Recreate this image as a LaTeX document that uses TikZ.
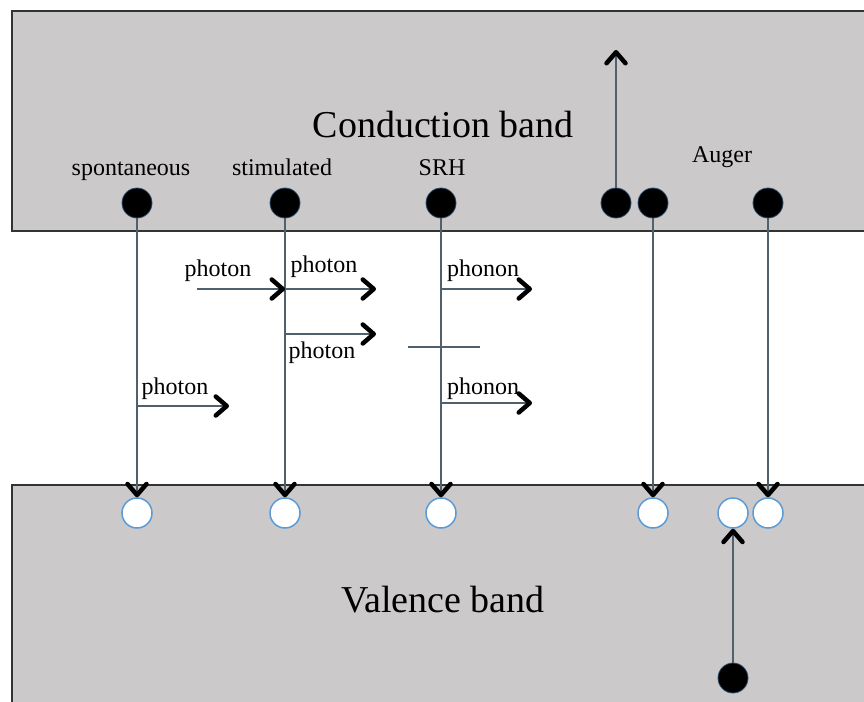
\documentclass[tikz,border=0pt]{standalone}
\usepackage{fontspec}
\setmainfont{Liberation Serif}
\usetikzlibrary{arrows.meta}
\definecolor{band}{HTML}{CBC9CA}
\definecolor{edge}{HTML}{333333}
\definecolor{wire}{HTML}{50606C}
\definecolor{rim}{HTML}{5B9BD5}
\tikzset{
  electron/.style={circle, fill=black, draw=rim!50!black, line width=0.8pt, minimum size=30pt, inner sep=0pt},
  hole/.style={circle, fill=white, draw=rim, line width=1.5pt, minimum size=30pt, inner sep=0pt},
  trans/.style={draw=wire, line width=1.2pt, -{Straight Barb[length=11pt,width=19pt,line width=4.5pt,round,color=black]}},
  lbl/.style={font=\fontsize{24}{28}\selectfont, inner sep=0pt, anchor=base},
  bandlbl/.style={font=\fontsize{38}{44}\selectfont, inner sep=0pt, anchor=base},
  bandedge/.style={draw=edge, line width=2pt},
  trap/.style={draw=wire, line width=1.2pt}
}
\begin{document}
\begin{tikzpicture}[x=1pt,y=-1pt]
\useasboundingbox (0,0) rectangle (864,701);
\clip (0,0) rectangle (864,701);
% bands
\fill[band] (12,11) rectangle (880,231);
\draw[bandedge] (880,11) -- (12,11) -- (12,231) -- (880,231);
\fill[band] (12,485) rectangle (880,720);
\draw[bandedge] (880,485) -- (12,485) -- (12,720);
% band labels
\node[bandlbl] (cbl) at (443,137) {Conduction band};
\node[bandlbl] (vbl) at (443,612) {Valence band};
% process labels
\node[lbl] (tsp) at (131,175) {spontaneous};
\node[lbl] (tst) at (282,175) {stimulated};
\node[lbl] (tsrh) at (442,175) {SRH};
\node[lbl] (tau) at (722,162) {Auger};
% electrons
\node[electron] (e1) at (137,203) {};
\node[electron] (e2) at (285,203) {};
\node[electron] (e3) at (441,203) {};
\node[electron] (e4) at (616,203) {};
\node[electron] (e5) at (653,203) {};
\node[electron] (e6) at (768,203) {};
\node[electron] (e7) at (733,678) {};
% holes
\node[hole] (h1) at (137,513) {};
\node[hole] (h2) at (285,513) {};
\node[hole] (h3) at (441,513) {};
\node[hole] (h5) at (653,513) {};
\node[hole] (h7) at (733,513) {};
\node[hole] (h6) at (768,513) {};
% transitions
\draw[trans] (e1.south) -- (h1.north);
\draw[trans] (e2.south) -- (h2.north);
\draw[trans] (e3.south) -- (h3.north);
\draw[trans] (e5.south) -- (h5.north);
\draw[trans] (e6.south) -- (h6.north);
\coordinate (up) at (616,50);
\draw[trans] (e4.north) -- (up);
\draw[trans] (e7.north) -- (h7.south);
% photon / phonon arrows
\coordinate (p1a) at (197,289); \coordinate (p1b) at (285,289);
\coordinate (p2a) at (285,289); \coordinate (p2b) at (376,289);
\coordinate (p3a) at (285,334); \coordinate (p3b) at (376,334);
\coordinate (p4a) at (137,406); \coordinate (p4b) at (229,406);
\coordinate (q1a) at (441,289); \coordinate (q1b) at (532,289);
\coordinate (q2a) at (441,403); \coordinate (q2b) at (532,403);
\draw[trans] (p1a) -- (p1b);
\draw[trans] (p2a) -- (p2b);
\draw[trans] (p3a) -- (p3b);
\draw[trans] (p4a) -- (p4b);
\draw[trans] (q1a) -- (q1b);
\draw[trans] (q2a) -- (q2b);
\coordinate (ta) at (408,347); \coordinate (tb) at (480,347);
\draw[trap] (ta) -- (tb);
\node[lbl] (l1) at (218,276) {photon};
\node[lbl] (l2) at (324,272) {photon};
\node[lbl] (l3) at (322,358) {photon};
\node[lbl] (l4) at (175,394) {photon};
\node[lbl] (l5) at (483,276) {phonon};
\node[lbl] (l6) at (483,394) {phonon};
\end{tikzpicture}
\end{document}
